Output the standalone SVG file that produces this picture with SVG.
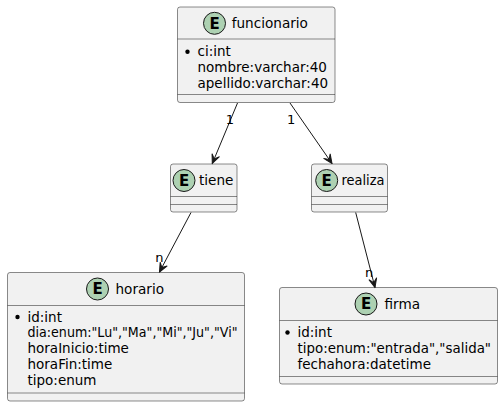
<svg xmlns="http://www.w3.org/2000/svg" width="503" height="407" viewBox="0 0 503 407">
<style>
.box{fill:#F1F1F1;stroke:#181818;stroke-width:0.5}
.sep{stroke:#181818;stroke-width:0.5}
.circ{fill:#ADD1B2;stroke:#181818;stroke-width:1}
.e{font-family:"DejaVu Sans",sans-serif;font-size:15px;font-weight:bold;fill:#000;text-anchor:middle}
.t{font-family:"DejaVu Sans",sans-serif;font-size:13.6px;fill:#000}
.a{font-family:"DejaVu Sans",sans-serif;font-size:13.5px;fill:#000}
.lbl{font-family:"DejaVu Sans",sans-serif;font-size:13px;fill:#000;text-anchor:middle}
.edge{stroke:#181818;stroke-width:1;fill:none}
.dot{fill:#000}
</style>
<defs>
<marker id="arr" markerUnits="userSpaceOnUse" viewBox="-11 -6 12 12" refX="0" refY="0" markerWidth="12" markerHeight="12" orient="auto">
<path d="M0,0 L-9,-4 L-5,0 L-9,4 Z" fill="#181818" stroke="#181818" stroke-width="1" stroke-linejoin="miter"/>
</marker>
</defs>
<rect width="503" height="407" fill="#FFFFFF"/>

<g id="funcionario">
<rect class="box" x="177.5" y="7" width="157.5" height="95.5" rx="2.5"/>
<line class="sep" x1="177.5" y1="39" x2="335" y2="39"/>
<line class="sep" x1="177.5" y1="94.5" x2="335" y2="94.5"/>
<circle class="circ" cx="214.5" cy="23.3" r="11"/>
<text class="e" x="214.5" y="28.6">E</text>
<text class="t" x="231.7" y="28">funcionario</text>
<circle class="dot" cx="187.5" cy="51.8" r="2.2"/>
<text class="a" x="197.5" y="56.3">ci:int</text>
<text class="a" x="197.5" y="72.2">nombre:varchar:40</text>
<text class="a" x="197.5" y="88.1">apellido:varchar:40</text>
</g>

<g id="tiene">
<rect class="box" x="170.5" y="164" width="66.5" height="48" rx="2.5"/>
<line class="sep" x1="170.5" y1="196.5" x2="237" y2="196.5"/>
<line class="sep" x1="170.5" y1="204.5" x2="237" y2="204.5"/>
<circle class="circ" cx="184" cy="180.5" r="11"/>
<text class="e" x="184" y="185.8">E</text>
<text class="t" x="199" y="185.3">tiene</text>
</g>

<g id="realiza">
<rect class="box" x="311.5" y="164" width="76" height="48" rx="2.5"/>
<line class="sep" x1="311.5" y1="196.5" x2="387.5" y2="196.5"/>
<line class="sep" x1="311.5" y1="204.5" x2="387.5" y2="204.5"/>
<circle class="circ" cx="326.7" cy="180.5" r="11"/>
<text class="e" x="326.7" y="185.8">E</text>
<text class="t" x="341.5" y="185.3" textLength="43" lengthAdjust="spacingAndGlyphs">realiza</text>
</g>

<g id="horario">
<rect class="box" x="7.5" y="272.5" width="237" height="128.5" rx="2.5"/>
<line class="sep" x1="7.5" y1="305.5" x2="244.5" y2="305.5"/>
<line class="sep" x1="7.5" y1="393" x2="244.5" y2="393"/>
<circle class="circ" cx="97.5" cy="289" r="11"/>
<text class="e" x="97.5" y="294.3">E</text>
<text class="t" x="115.5" y="293.7">horario</text>
<circle class="dot" cx="17.5" cy="317" r="2.2"/>
<text class="a" x="27.5" y="321.5">id:int</text>
<text class="a" x="27.5" y="337.4" textLength="210" lengthAdjust="spacingAndGlyphs">dia:enum:"Lu","Ma","Mi","Ju","Vi"</text>
<text class="a" x="27.5" y="353.3">horaInicio:time</text>
<text class="a" x="27.5" y="369.2">horaFin:time</text>
<text class="a" x="27.5" y="385.1">tipo:enum</text>
</g>

<g id="firma">
<rect class="box" x="279.5" y="287.5" width="218" height="96.5" rx="2.5"/>
<line class="sep" x1="279.5" y1="320.5" x2="497.5" y2="320.5"/>
<line class="sep" x1="279.5" y1="376.5" x2="497.5" y2="376.5"/>
<circle class="circ" cx="366" cy="304" r="11"/>
<text class="e" x="366" y="309.3">E</text>
<text class="t" x="384.5" y="308.7">firma</text>
<circle class="dot" cx="287.5" cy="332.5" r="2.2"/>
<text class="a" x="297.5" y="337">id:int</text>
<text class="a" x="297.5" y="352.9" textLength="193.5" lengthAdjust="spacingAndGlyphs">tipo:enum:"entrada","salida"</text>
<text class="a" x="297.5" y="368.8">fechahora:datetime</text>
</g>

<g id="connectors">
<line class="edge" x1="237.5" y1="103" x2="212.3" y2="163.5" marker-end="url(#arr)"/>
<text class="lbl" x="230" y="124">1</text>
<line class="edge" x1="290" y1="103" x2="332" y2="163.5" marker-end="url(#arr)"/>
<text class="lbl" x="291.2" y="124">1</text>
<line class="edge" x1="191" y1="212.5" x2="159.5" y2="272" marker-end="url(#arr)"/>
<text class="lbl" x="159.3" y="261.7">n</text>
<line class="edge" x1="355.7" y1="212.5" x2="375" y2="287.5" marker-end="url(#arr)"/>
<text class="lbl" x="369.2" y="277">n</text>
</g>
</svg>
